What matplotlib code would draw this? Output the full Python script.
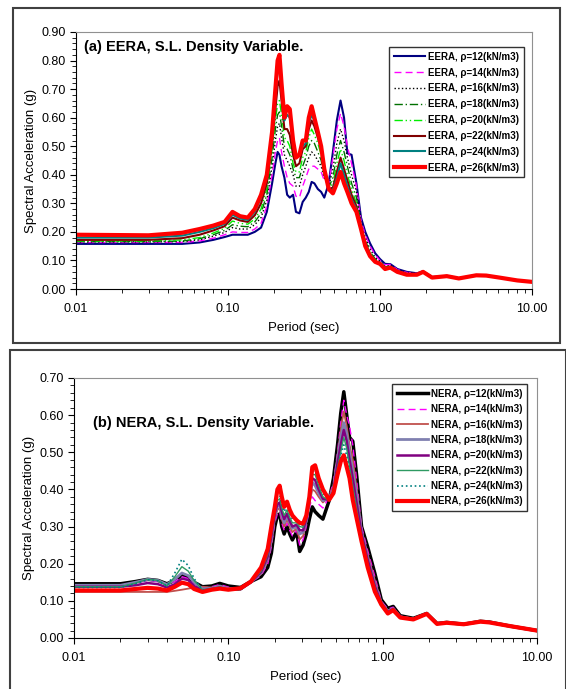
import matplotlib
matplotlib.use("Agg")
import matplotlib.pyplot as plt
from matplotlib.patches import Rectangle
from matplotlib.ticker import FixedLocator, MultipleLocator, FuncFormatter, LogLocator, NullFormatter

plt.rcParams['font.family'] = ['Liberation Sans', 'DejaVu Sans']

# ---------------- data: (a) EERA ----------------
period_a = [0.01, 0.03, 0.05, 0.065, 0.08, 0.095, 0.107, 0.12, 0.135, 0.15,
            0.165, 0.18, 0.195, 0.205, 0.212, 0.218, 0.225, 0.235, 0.245, 0.255,
            0.268, 0.28, 0.295, 0.31, 0.325, 0.34, 0.355, 0.37, 0.39, 0.41,
            0.43, 0.46, 0.49, 0.52, 0.55, 0.58, 0.61, 0.65, 0.70, 0.75,
            0.80, 0.86, 0.93, 1.0, 1.08, 1.17, 1.3, 1.5, 1.75, 1.92,
            2.2, 2.75, 3.3, 4.3, 5.0, 6.1, 8.0, 10.0]

eera_12 = [0.158, 0.158, 0.158, 0.163, 0.172, 0.182, 0.19, 0.19, 0.19, 0.20,
           0.215, 0.27, 0.37, 0.44, 0.48, 0.47, 0.43, 0.39, 0.33, 0.32,
           0.33, 0.27, 0.265, 0.305, 0.32, 0.34, 0.375, 0.37, 0.35, 0.34,
           0.32, 0.37, 0.48, 0.59, 0.66, 0.60, 0.475, 0.47, 0.37, 0.25,
           0.20, 0.16, 0.125, 0.105, 0.088, 0.087, 0.07, 0.06, 0.055, 0.062,
           0.042, 0.046, 0.038, 0.049, 0.047, 0.04, 0.03, 0.025]
eera_14 = [0.163, 0.163, 0.163, 0.168, 0.178, 0.19, 0.20, 0.198, 0.198, 0.21,
           0.23, 0.29, 0.40, 0.48, 0.52, 0.53, 0.48, 0.43, 0.39, 0.37,
           0.36, 0.325, 0.32, 0.36, 0.39, 0.42, 0.43, 0.43, 0.42, 0.41,
           0.38, 0.37, 0.46, 0.56, 0.615, 0.57, 0.50, 0.44, 0.36, 0.24,
           0.19, 0.15, 0.12, 0.10, 0.085, 0.086, 0.068, 0.058, 0.054, 0.062,
           0.042, 0.046, 0.038, 0.049, 0.047, 0.04, 0.03, 0.025]
eera_16 = [0.165, 0.165, 0.166, 0.172, 0.185, 0.198, 0.215, 0.21, 0.21, 0.225,
           0.25, 0.31, 0.43, 0.52, 0.57, 0.58, 0.53, 0.47, 0.45, 0.43,
           0.40, 0.36, 0.36, 0.40, 0.43, 0.46, 0.48, 0.47, 0.45, 0.43,
           0.39, 0.36, 0.42, 0.51, 0.56, 0.52, 0.46, 0.40, 0.34, 0.23,
           0.18, 0.14, 0.11, 0.097, 0.08, 0.082, 0.066, 0.056, 0.053, 0.061,
           0.041, 0.046, 0.038, 0.049, 0.047, 0.04, 0.03, 0.025]
eera_18 = [0.166, 0.166, 0.168, 0.176, 0.19, 0.205, 0.225, 0.22, 0.218, 0.235,
           0.265, 0.33, 0.46, 0.56, 0.61, 0.62, 0.57, 0.50, 0.49, 0.47,
           0.42, 0.39, 0.39, 0.43, 0.46, 0.50, 0.52, 0.51, 0.48, 0.45,
           0.40, 0.355, 0.39, 0.47, 0.52, 0.48, 0.43, 0.37, 0.32, 0.225,
           0.17, 0.13, 0.105, 0.094, 0.077, 0.08, 0.064, 0.054, 0.052, 0.06,
           0.041, 0.045, 0.037, 0.048, 0.047, 0.04, 0.03, 0.025]
eera_20 = [0.168, 0.168, 0.172, 0.18, 0.196, 0.212, 0.238, 0.23, 0.227, 0.245,
           0.28, 0.35, 0.49, 0.59, 0.65, 0.66, 0.61, 0.53, 0.52, 0.50,
           0.44, 0.41, 0.41, 0.46, 0.48, 0.53, 0.56, 0.54, 0.51, 0.47,
           0.41, 0.35, 0.37, 0.44, 0.49, 0.45, 0.40, 0.35, 0.30, 0.22,
           0.165, 0.125, 0.10, 0.092, 0.075, 0.078, 0.063, 0.053, 0.051, 0.06,
           0.04, 0.045, 0.037, 0.048, 0.047, 0.04, 0.03, 0.025]
eera_22 = [0.172, 0.172, 0.178, 0.19, 0.205, 0.22, 0.25, 0.24, 0.235, 0.258,
           0.30, 0.37, 0.51, 0.63, 0.71, 0.73, 0.66, 0.56, 0.56, 0.54,
           0.47, 0.43, 0.44, 0.49, 0.50, 0.56, 0.59, 0.57, 0.53, 0.49,
           0.415, 0.35, 0.355, 0.41, 0.46, 0.42, 0.38, 0.33, 0.29, 0.215,
           0.16, 0.12, 0.098, 0.09, 0.073, 0.077, 0.062, 0.052, 0.05, 0.06,
           0.04, 0.045, 0.037, 0.048, 0.047, 0.04, 0.03, 0.025]
eera_24 = [0.18, 0.18, 0.187, 0.20, 0.213, 0.228, 0.26, 0.247, 0.242, 0.27,
           0.32, 0.39, 0.54, 0.67, 0.76, 0.78, 0.70, 0.59, 0.61, 0.60,
           0.51, 0.47, 0.47, 0.50, 0.51, 0.58, 0.61, 0.59, 0.54, 0.50,
           0.42, 0.35, 0.345, 0.39, 0.44, 0.40, 0.36, 0.315, 0.28, 0.21,
           0.155, 0.118, 0.096, 0.089, 0.071, 0.076, 0.061, 0.051, 0.05, 0.06,
           0.04, 0.045, 0.037, 0.048, 0.047, 0.04, 0.03, 0.025]
eera_26 = [0.19, 0.188, 0.197, 0.21, 0.222, 0.235, 0.27, 0.255, 0.25, 0.28,
           0.33, 0.40, 0.55, 0.70, 0.80, 0.82, 0.72, 0.60, 0.64, 0.63,
           0.52, 0.46, 0.47, 0.52, 0.52, 0.60, 0.64, 0.60, 0.55, 0.50,
           0.42, 0.35, 0.335, 0.37, 0.41, 0.37, 0.34, 0.30, 0.27, 0.21,
           0.15, 0.115, 0.095, 0.088, 0.07, 0.075, 0.06, 0.05, 0.05, 0.06,
           0.04, 0.045, 0.037, 0.048, 0.047, 0.04, 0.03, 0.025]

# ---------------- data: (b) NERA ----------------
period_b = [0.01, 0.02, 0.025, 0.03, 0.035, 0.04, 0.045, 0.05, 0.055, 0.06,
            0.068, 0.078, 0.088, 0.1, 0.12, 0.14, 0.163, 0.18, 0.19, 0.2,
            0.208, 0.215, 0.222, 0.23, 0.24, 0.25, 0.26, 0.277, 0.29, 0.305,
            0.32, 0.335, 0.35, 0.365, 0.385, 0.41, 0.45, 0.48, 0.51, 0.535,
            0.56, 0.585, 0.61, 0.64, 0.68, 0.73, 0.8, 0.89, 0.98, 1.08,
            1.17, 1.3, 1.58, 1.93, 2.25, 2.6, 3.35, 4.3, 4.9, 6.7, 10.0]

nera_12 = [0.146, 0.146, 0.152, 0.158, 0.155, 0.146, 0.155, 0.17, 0.165, 0.15,
           0.138, 0.14, 0.147, 0.14, 0.136, 0.152, 0.165, 0.19, 0.228, 0.30,
           0.33, 0.334, 0.30, 0.28, 0.30, 0.28, 0.264, 0.286, 0.233, 0.25,
           0.28, 0.32, 0.353, 0.34, 0.33, 0.32, 0.37, 0.43, 0.52, 0.605,
           0.663, 0.60, 0.54, 0.53, 0.434, 0.30, 0.245, 0.174, 0.103, 0.08,
           0.085, 0.06, 0.053, 0.066, 0.039, 0.042, 0.037, 0.045, 0.043, 0.032, 0.02]
nera_14 = [0.14, 0.14, 0.148, 0.155, 0.152, 0.143, 0.152, 0.165, 0.16, 0.147,
           0.135, 0.138, 0.144, 0.137, 0.134, 0.15, 0.168, 0.20, 0.245, 0.31,
           0.335, 0.34, 0.31, 0.29, 0.31, 0.29, 0.275, 0.29, 0.25, 0.265,
           0.30, 0.35, 0.38, 0.37, 0.36, 0.35, 0.38, 0.42, 0.50, 0.58,
           0.64, 0.60, 0.57, 0.52, 0.42, 0.30, 0.235, 0.165, 0.10, 0.078,
           0.083, 0.059, 0.052, 0.066, 0.039, 0.042, 0.037, 0.045, 0.043, 0.032, 0.02]
nera_16 = [0.124, 0.124, 0.124, 0.124, 0.124, 0.124, 0.127, 0.13, 0.133, 0.136,
           0.138, 0.136, 0.14, 0.135, 0.134, 0.151, 0.172, 0.21, 0.255, 0.32,
           0.345, 0.35, 0.32, 0.30, 0.32, 0.30, 0.285, 0.295, 0.265, 0.275,
           0.31, 0.36, 0.40, 0.395, 0.38, 0.365, 0.38, 0.41, 0.49, 0.56,
           0.61, 0.57, 0.52, 0.48, 0.40, 0.29, 0.225, 0.155, 0.097, 0.074,
           0.08, 0.058, 0.052, 0.066, 0.039, 0.042, 0.037, 0.045, 0.043, 0.032, 0.02]
nera_18 = [0.142, 0.142, 0.15, 0.158, 0.155, 0.144, 0.158, 0.175, 0.168, 0.15,
           0.132, 0.134, 0.14, 0.132, 0.132, 0.15, 0.175, 0.215, 0.265, 0.33,
           0.355, 0.36, 0.33, 0.31, 0.33, 0.31, 0.295, 0.30, 0.28, 0.285,
           0.315, 0.37, 0.42, 0.41, 0.39, 0.37, 0.375, 0.40, 0.48, 0.54,
           0.58, 0.55, 0.50, 0.45, 0.38, 0.285, 0.215, 0.145, 0.095, 0.072,
           0.079, 0.057, 0.051, 0.066, 0.039, 0.042, 0.037, 0.045, 0.043, 0.032, 0.02]
nera_20 = [0.138, 0.138, 0.142, 0.148, 0.145, 0.136, 0.145, 0.16, 0.156, 0.14,
           0.128, 0.132, 0.136, 0.13, 0.131, 0.15, 0.178, 0.22, 0.275, 0.335,
           0.36, 0.365, 0.34, 0.32, 0.335, 0.315, 0.30, 0.305, 0.29, 0.29,
           0.32, 0.375, 0.43, 0.425, 0.40, 0.375, 0.372, 0.395, 0.47, 0.52,
           0.56, 0.53, 0.48, 0.43, 0.36, 0.28, 0.21, 0.14, 0.093, 0.07,
           0.078, 0.056, 0.051, 0.066, 0.039, 0.042, 0.037, 0.045, 0.043, 0.032, 0.02]
nera_22 = [0.138, 0.138, 0.148, 0.158, 0.155, 0.14, 0.165, 0.192, 0.18, 0.155,
           0.13, 0.132, 0.137, 0.13, 0.13, 0.15, 0.18, 0.225, 0.28, 0.34,
           0.37, 0.375, 0.35, 0.33, 0.345, 0.325, 0.31, 0.31, 0.30, 0.298,
           0.325, 0.38, 0.44, 0.44, 0.41, 0.38, 0.37, 0.39, 0.46, 0.50,
           0.54, 0.51, 0.46, 0.41, 0.345, 0.27, 0.20, 0.135, 0.092, 0.068,
           0.077, 0.056, 0.051, 0.065, 0.038, 0.041, 0.037, 0.044, 0.042, 0.032, 0.02]
nera_24 = [0.136, 0.136, 0.146, 0.157, 0.154, 0.14, 0.175, 0.212, 0.195, 0.16,
           0.13, 0.131, 0.136, 0.13, 0.13, 0.15, 0.185, 0.23, 0.29, 0.345,
           0.38, 0.385, 0.36, 0.34, 0.355, 0.335, 0.32, 0.315, 0.305, 0.303,
           0.328, 0.38, 0.45, 0.45, 0.42, 0.39, 0.37, 0.39, 0.45, 0.49,
           0.52, 0.49, 0.45, 0.39, 0.33, 0.265, 0.195, 0.13, 0.091, 0.067,
           0.076, 0.055, 0.05, 0.065, 0.038, 0.041, 0.037, 0.044, 0.042, 0.032, 0.02]
nera_26 = [0.128, 0.128, 0.132, 0.135, 0.133, 0.128, 0.138, 0.149, 0.145, 0.132,
           0.124, 0.13, 0.133, 0.13, 0.134, 0.152, 0.19, 0.24, 0.30, 0.353,
           0.40, 0.41, 0.38, 0.353, 0.367, 0.345, 0.33, 0.317, 0.31, 0.308,
           0.33, 0.38, 0.46, 0.465, 0.43, 0.40, 0.372, 0.39, 0.44, 0.475,
           0.492, 0.46, 0.43, 0.372, 0.32, 0.26, 0.19, 0.125, 0.09, 0.066,
           0.075, 0.055, 0.05, 0.065, 0.038, 0.041, 0.037, 0.044, 0.042, 0.032, 0.02]

labels_a = ['EERA, ρ=%d(kN/m3)' % r for r in (12, 14, 16, 18, 20, 22, 24, 26)]
labels_b = ['NERA, ρ=%d(kN/m3)' % r for r in (12, 14, 16, 18, 20, 22, 24, 26)]

# styles: color, linestyle, linewidth
styles_a = [('#000080', '-', 1.5), ('#FF00FF', (0, (5, 3)), 1.0), ('#000000', ':', 1.0),
            ('#007000', (0, (6, 2, 1, 2)), 1.0), ('#00EE00', (0, (6, 2, 1, 2, 1, 2)), 1.0),
            ('#800000', '-', 1.5), ('#008080', '-', 1.5), ('#FF0000', '-', 3.0)]
styles_b = [('#000000', '-', 2.5), ('#FF00FF', (0, (5, 3)), 1.0), ('#C0504D', '-', 1.3),
            ('#8080B0', '-', 2.0), ('#800080', '-', 1.8), ('#2E9A62', '-', 1.0),
            ('#008080', ':', 1.2), ('#FF0000', '-', 3.0)]

W, H = 566, 689
fig = plt.figure(figsize=(W / 100, H / 100), dpi=100)

# outer frames around the two panels
fig.patches.append(Rectangle((13 / W, 1 - 343 / H), 547 / W, 335 / H, transform=fig.transFigure,
                             fill=False, edgecolor='#404040', lw=1.5))
fig.patches.append(Rectangle((10 / W, -0.01), 556 / W, (339 + 7) / H, transform=fig.transFigure,
                             fill=False, edgecolor='#404040', lw=1.5))


def setup(ax, ymax, title, tx, ty):
    ax.set_xscale('log')
    ax.set_xlim(0.01, 10)
    ax.set_ylim(0, ymax)
    ax.yaxis.set_major_locator(MultipleLocator(0.1))
    ax.yaxis.set_minor_locator(MultipleLocator(0.02))
    ax.yaxis.set_major_formatter(FuncFormatter(lambda v, p: '%.2f' % v))
    ax.xaxis.set_major_locator(FixedLocator([0.01, 0.1, 1, 10]))
    ax.xaxis.set_minor_locator(LogLocator(base=10, subs=range(2, 10)))
    ax.xaxis.set_minor_formatter(NullFormatter())
    ax.xaxis.set_major_formatter(FuncFormatter(lambda v, p: '%.2f' % v))
    ax.tick_params(which='both', direction='out', labelsize=9, colors='black')
    ax.tick_params(which='major', length=4)
    ax.tick_params(which='minor', length=3)
    ax.tick_params(axis='x', which='major', pad=6)
    for s in ('top', 'right'):
        ax.spines[s].set_color('#909090')
    for s in ('left', 'bottom'):
        ax.spines[s].set_color('black')
    ax.set_xlabel('Period (sec)', fontsize=9.5, labelpad=5)
    ax.set_ylabel('Spectral Acceleration (g)', fontsize=9.5, labelpad=3)
    ax.text(tx, ty, title, transform=ax.transAxes, fontsize=10.5, fontweight='bold', va='center')


ax1 = fig.add_axes([76 / W, 1 - 289 / H, 456 / W, 257 / H])
for y, lab, (c, ls, lw) in zip([eera_12, eera_14, eera_16, eera_18, eera_20, eera_22, eera_24, eera_26],
                               labels_a, styles_a):
    ax1.plot(period_a, y, color=c, linestyle=ls, linewidth=lw, label=lab)
setup(ax1, 0.9, '(a) EERA, S.L. Density Variable.', 0.017, 0.94)
leg = ax1.legend(loc='upper right', bbox_to_anchor=(0.982, 0.942), borderaxespad=0, frameon=True,
                 fancybox=False, edgecolor='black', handlelength=3.2, handletextpad=0.3,
                 labelspacing=0.6, borderpad=0.5, prop={'weight': 'bold', 'size': 7})
leg.get_frame().set_linewidth(1.0)

ax2 = fig.add_axes([74 / W, 1 - 638 / H, 463 / W, 260 / H])
for y, lab, (c, ls, lw) in zip([nera_12, nera_14, nera_16, nera_18, nera_20, nera_22, nera_24, nera_26],
                               labels_b, styles_b):
    ax2.plot(period_b, y, color=c, linestyle=ls, linewidth=lw, label=lab)
setup(ax2, 0.7, '(b) NERA, S.L. Density Variable.', 0.041, 0.825)
leg = ax2.legend(loc='upper right', bbox_to_anchor=(0.979, 0.977), borderaxespad=0, frameon=True,
                 fancybox=False, edgecolor='black', handlelength=3.2, handletextpad=0.3,
                 labelspacing=0.55, borderpad=0.5, prop={'weight': 'bold', 'size': 7})
leg.get_frame().set_linewidth(1.0)

fig.savefig('out.png', dpi=100)
